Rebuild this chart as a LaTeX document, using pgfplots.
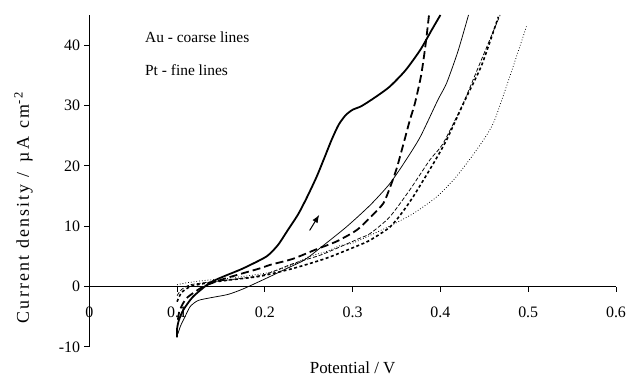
\documentclass[border=0pt]{standalone}
\usepackage{fontspec}
\setmainfont{Liberation Serif}
\newfontfamily\spacedfont[LetterSpace=12]{Liberation Serif}
\usepackage{pgfplots}
\pgfplotsset{compat=1.18}
\usetikzlibrary{arrows.meta}
\begin{document}
\begin{tikzpicture}
\begin{axis}[
  scale only axis, width=526.8bp, height=332bp,
  xmin=0, xmax=0.6, ymin=-10, ymax=45,
  axis x line=middle, axis y line=left,
  axis line style={-, line width=1bp, black},
  xtick={0,0.1,0.2,0.3,0.4,0.5,0.6},
  xticklabels={0,0.1,0.2,0.3,0.4,0.5,0.6},
  ytick={-10,0,10,20,30,40},
  yticklabels={-10,0,10,20,30,40},
  tick align=outside, major tick length=5bp,
  tick style={line width=1bp, black},
  hide obscured x ticks=false, hide obscured y ticks=false,
  /pgf/number format/assume math mode=true,
  ticklabel style={font=\fontsize{16}{19}\selectfont},
  xticklabel style={anchor=center, yshift=-21bp},
  yticklabel style={anchor=east, inner sep=0pt, xshift=-4bp},
  clip=false,
]
% Au thick solid
\addplot[black, line width=1.8bp, smooth, tension=0.4] coordinates {
(0.100,-8.4)(0.100,-7.0)(0.102,-5.6)(0.107,-3.9)(0.118,-1.7)(0.137,0.6)(0.155,1.8)(0.175,3.0)(0.202,5.0)(0.215,6.9)(0.225,9.1)(0.238,12.0)(0.248,14.8)(0.259,18.2)(0.268,21.4)(0.276,24.3)(0.284,26.8)(0.292,28.4)(0.300,29.3)(0.310,29.9)(0.325,31.3)(0.342,33.1)(0.360,35.8)(0.377,39.2)(0.390,42.5)(0.400,45)};
% Au thick long dashed
\addplot[black, line width=1.8bp, dash pattern=on 8bp off 4bp, smooth, tension=0.4] coordinates {
(0.101,-5.5)(0.103,-3.9)(0.111,-1.9)(0.130,0)(0.156,1.4)(0.194,3.0)(0.206,3.6)(0.232,4.6)(0.259,6.2)(0.282,7.5)(0.305,9.4)(0.323,11.9)(0.335,13.8)(0.342,16.2)(0.350,19.5)(0.358,23.7)(0.365,27.5)(0.371,30.4)(0.378,35)(0.383,40)(0.387,45)};
% Au thick short dashed
\addplot[black, line width=1.6bp, dash pattern=on 3bp off 2.5bp, smooth, tension=0.4] coordinates {
(0.100,-2.5)(0.105,-1.0)(0.115,0)(0.130,0.5)(0.160,1.1)(0.194,1.7)(0.232,3.0)(0.270,4.7)(0.308,6.9)(0.320,7.7)(0.342,9.8)(0.355,12)(0.369,14.9)(0.392,20.4)(0.407,24.3)(0.428,30.9)(0.447,36.7)(0.466,44.7)};
% Pt thin solid
\addplot[black, line width=0.75bp, smooth, tension=0.4] coordinates {
(0.101,-7.8)(0.104,-6.5)(0.109,-5.0)(0.115,-3.3)(0.124,-2.3)(0.140,-1.8)(0.158,-1.3)(0.175,-0.4)(0.202,1.4)(0.225,3.0)(0.245,4.4)(0.263,6.4)(0.293,9.9)(0.320,13.5)(0.342,17)(0.360,20.8)(0.377,24.8)(0.397,30.9)(0.407,33.7)(0.420,39)(0.432,45)};
% Pt thin dashed
\addplot[black, line width=0.75bp, dash pattern=on 4bp off 2bp, smooth, tension=0.4] coordinates {
(0.100,-1.5)(0.105,-0.5)(0.115,0.3)(0.140,0.8)(0.170,1.3)(0.200,2.0)(0.232,3.8)(0.263,5.2)(0.286,6.6)(0.308,8.0)(0.320,8.8)(0.342,11.5)(0.365,16.0)(0.388,21.0)(0.403,23.7)(0.426,30.4)(0.445,37)(0.468,45)};
% Pt thin dotted
\addplot[black, line width=0.75bp, dash pattern=on 0.8bp off 2bp, smooth, tension=0.4] coordinates {
(0.100,0.3)(0.110,0.6)(0.130,1.0)(0.160,1.4)(0.200,2.2)(0.225,3.2)(0.251,5.0)(0.270,5.8)(0.286,6.8)(0.300,7.2)(0.320,8.5)(0.342,10.0)(0.369,12.1)(0.396,14.9)(0.418,18.2)(0.441,22.6)(0.460,27.0)(0.479,34.8)(0.498,43.1)};
\draw[-{Latex[length=8bp,width=6bp]}, line width=1bp] (axis cs:0.251,9.3) -- (axis cs:0.262,11.9);
\node[anchor=west, inner sep=0pt, font=\fontsize{15.5}{18}\selectfont] at (axis cs:0.0634,41.4) {Au - coarse lines};
\node[anchor=west, inner sep=0pt, font=\fontsize{15.5}{18}\selectfont] at (axis cs:0.0634,35.9) {Pt - fine lines};
\node[rotate=90, inner sep=0pt, font=\spacedfont\fontsize{18}{21}\selectfont] at ([xshift=-65.8bp]rel axis cs:0,0.42) {Current density /\hspace{0.2em} µA\hspace{0.1em} cm\textsuperscript{-2}};
\node[anchor=south, inner sep=0pt, font=\fontsize{17}{20}\selectfont] at ([yshift=-27bp]rel axis cs:0.5,0) {Potential / V};
\coordinate (LL) at (rel axis cs:0,0);
\coordinate (UR) at (rel axis cs:1,1);
\end{axis}
\path ([shift={(-89.3bp,-29bp)}]LL) rectangle ([shift={(14bp,15bp)}]UR);
\end{tikzpicture}
\end{document}
